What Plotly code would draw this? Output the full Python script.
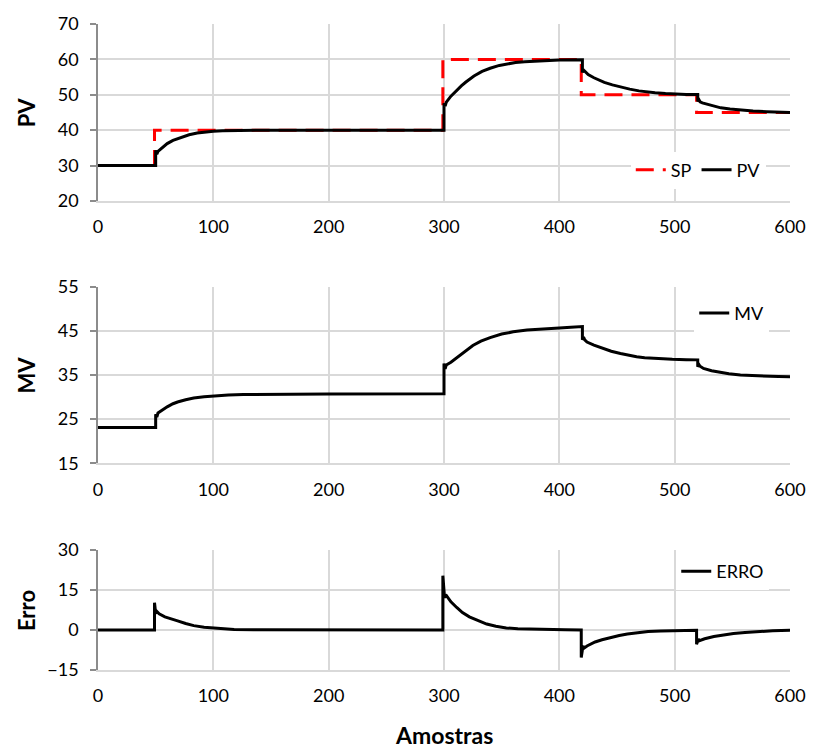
import plotly.graph_objects as go

# ---------------- data ----------------
sp_x = [0, 49, 49, 299, 299, 419, 419, 519, 519, 600]
sp_y = [30, 30, 40, 40, 60, 60, 50, 50, 45, 45]

pv_x = [0, 50, 50, 51, 52, 56, 60, 65, 72, 79, 86, 93, 100, 108, 120, 140, 300,
        300, 301, 302, 306, 310, 315, 319, 326, 333, 340, 348, 355, 362, 370, 377, 390, 400, 420,
        420, 421, 422, 425, 430, 439, 446, 454, 461, 469, 476, 483, 492, 500, 510, 520,
        520, 521, 522, 524, 530, 535, 540, 548, 557, 568, 580, 590, 600]
pv_y = [30, 30, 34.3, 33.2, 34.0, 35.2, 36.2, 37.1, 38.0, 38.7, 39.2, 39.5, 39.7, 39.85, 39.95, 40, 40,
        47.6, 46.8, 47.9, 49.6, 51.0, 52.5, 53.6, 55.3, 56.6, 57.5, 58.3, 58.8, 59.1, 59.35, 59.5, 59.7, 59.8, 59.9,
        56.3, 57.0, 56.6, 55.7, 54.8, 53.5, 52.8, 52.1, 51.6, 51.1, 50.8, 50.6, 50.35, 50.2, 50.1, 50.05,
        48.1, 48.6, 48.0, 47.7, 47.1, 46.7, 46.3, 45.95, 45.65, 45.4, 45.2, 45.1, 45.0]

mv_x = [0, 50, 50, 51, 52, 55, 60, 65, 69, 76, 83, 92, 100, 113, 126, 150, 200, 300,
        300, 301, 302, 306, 310, 315, 319, 325, 332, 340, 350, 360, 372, 385, 400, 410, 420,
        420, 421, 422, 424, 430, 438, 445, 453, 460, 467, 474, 482, 490, 498, 510, 520,
        520, 521, 522, 525, 532, 539, 547, 557, 568, 580, 590, 600]
mv_y = [23.1, 23.1, 26.1, 25.5, 26.4, 27.0, 27.8, 28.5, 28.9, 29.4, 29.8, 30.1, 30.3, 30.5, 30.6, 30.65, 30.7, 30.75,
        37.6, 36.4, 37.3, 37.9, 38.7, 39.8, 40.6, 41.7, 42.7, 43.5, 44.3, 44.8, 45.2, 45.5, 45.7, 45.85, 46.0,
        43.0, 43.6, 43.0, 42.5, 41.8, 41.0, 40.4, 39.9, 39.5, 39.15, 38.95, 38.8, 38.7, 38.6, 38.5, 38.45,
        36.9, 37.4, 37.0, 36.5, 36.0, 35.6, 35.3, 35.0, 34.85, 34.7, 34.65, 34.6]

erro_x = [0, 49, 49, 50, 51, 53, 58, 63, 69, 76, 83, 92, 100, 110, 118, 135, 160, 299,
          299, 300.5, 301.5, 303, 306, 311, 316, 322, 329, 337, 345, 354, 364, 374, 390, 405, 419,
          419, 420.5, 421.5, 424, 431, 437, 445, 452, 459, 468, 477, 488, 500, 519,
          519, 520.5, 521.5, 526, 534, 542, 551, 561, 571, 585, 600]
erro_y = [0, 0, 10.2, 6.2, 6.9, 6.0, 4.9, 4.1, 3.4, 2.4, 1.6, 1.0, 0.7, 0.35, 0.15, 0.05, 0, 0,
          20.3, 12.0, 13.2, 12.2, 10.5, 8.4, 6.5, 4.9, 3.5, 2.2, 1.35, 0.75, 0.4, 0.25, 0.1, 0.05, 0,
          -10.3, -6.0, -6.8, -6.0, -4.5, -3.7, -2.7, -2.1, -1.5, -1.0, -0.6, -0.4, -0.25, -0.1,
          -5.4, -3.4, -4.0, -3.3, -2.5, -1.9, -1.35, -0.95, -0.6, -0.3, -0.1]

x_ticks = [0, 100, 200, 300, 400, 500, 600]
pv_ticks = [20, 30, 40, 50, 60, 70]
mv_ticks = [15, 25, 35, 45, 55]
erro_ticks = [-15, 0, 15, 30]

# ---------------- figure ----------------
FONT = "Lato, 'Open Sans', sans-serif"
GRID = "#D9D9D9"
AXIS = "#8C8C8C"

fig = go.Figure()
fig.add_trace(go.Scatter(x=sp_x, y=sp_y, name="SP", mode="lines",
                         line=dict(color="#FF0000", width=3, dash="18px,9px"),
                         xaxis="x", yaxis="y", legend="legend"))
fig.add_trace(go.Scatter(x=pv_x, y=pv_y, name="PV", mode="lines",
                         line=dict(color="black", width=3),
                         xaxis="x", yaxis="y", legend="legend"))
fig.add_trace(go.Scatter(x=mv_x, y=mv_y, name="MV", mode="lines",
                         line=dict(color="black", width=3),
                         xaxis="x2", yaxis="y2", legend="legend2"))
fig.add_trace(go.Scatter(x=erro_x, y=erro_y, name="ERRO", mode="lines",
                         line=dict(color="black", width=3),
                         xaxis="x3", yaxis="y3", legend="legend3"))

H_PLOT = 650.0
L, R = 98, 21
W_PLOT = 818.0 - L - R

def dom(top_px, bot_px):
    return [(670 - bot_px) / H_PLOT, (670 - top_px) / H_PLOT]

xcommon = dict(range=[0, 600], tickvals=x_ticks, showgrid=True, gridcolor=GRID, gridwidth=1.5,
               showline=True, linecolor=GRID, linewidth=1.5, ticks="", zeroline=False,
               tickfont=dict(family=FONT, size=18, color="black"), ticklabelstandoff=9)
ycommon = dict(showgrid=True, gridcolor=GRID, gridwidth=1.5, showline=True, linecolor=AXIS,
               linewidth=1.5, ticks="outside", ticklen=6, tickcolor=AXIS, tickwidth=1.5,
               zeroline=False, tickfont=dict(family=FONT, size=18, color="black"),
               ticklabelstandoff=8)

fig.update_layout(
    width=818, height=749,
    margin=dict(l=L, r=R, t=20, b=79),
    paper_bgcolor="white", plot_bgcolor="white",
    font=dict(family=FONT, size=18, color="black"),
    xaxis=dict(domain=[0, 1], anchor="y", **xcommon),
    yaxis=dict(domain=dom(20, 198), anchor="x", range=[20, 70], tickvals=pv_ticks, **ycommon),
    xaxis2=dict(domain=[0, 1], anchor="y2", **xcommon),
    yaxis2=dict(domain=dom(284.5, 462), anchor="x2", range=[15, 55], tickvals=mv_ticks, **ycommon),
    xaxis3=dict(domain=[0, 1], anchor="y3", **xcommon),
    yaxis3=dict(domain=dom(549, 670), anchor="x3", range=[-15, 30], tickvals=erro_ticks, **ycommon),
    legend=dict(orientation="h", x=0.965, xanchor="right", y=(670 - 167) / H_PLOT, yanchor="middle",
                bgcolor="white", font=dict(family=FONT, size=18)),
    legend2=dict(orientation="h", x=0.97, xanchor="right", y=(670 - 311) / H_PLOT, yanchor="middle",
                 bgcolor="white", font=dict(family=FONT, size=18)),
    legend3=dict(orientation="h", x=0.97, xanchor="right", y=(670 - 571) / H_PLOT, yanchor="middle",
                 bgcolor="white", font=dict(family=FONT, size=18)),
    showlegend=True,
)

def px_x(p):
    return (p - L) / W_PLOT

def px_y(p):
    return (670 - p) / H_PLOT

titles = [("PV", 26, 109), ("MV", 26, 373), ("Erro", 26, 610)]
for txt, xp, yp in titles:
    fig.add_annotation(text="<b>%s</b>" % txt, x=px_x(xp), y=px_y(yp), xref="paper", yref="paper",
                       textangle=-90, showarrow=False, xanchor="center", yanchor="middle",
                       font=dict(family=FONT, size=22, color="black"))
fig.add_annotation(text="<b>Amostras</b>", x=px_x(447), y=px_y(735), xref="paper", yref="paper",
                   showarrow=False, xanchor="center", yanchor="middle",
                   font=dict(family=FONT, size=23, color="black"))

fig.write_html("out.html")
